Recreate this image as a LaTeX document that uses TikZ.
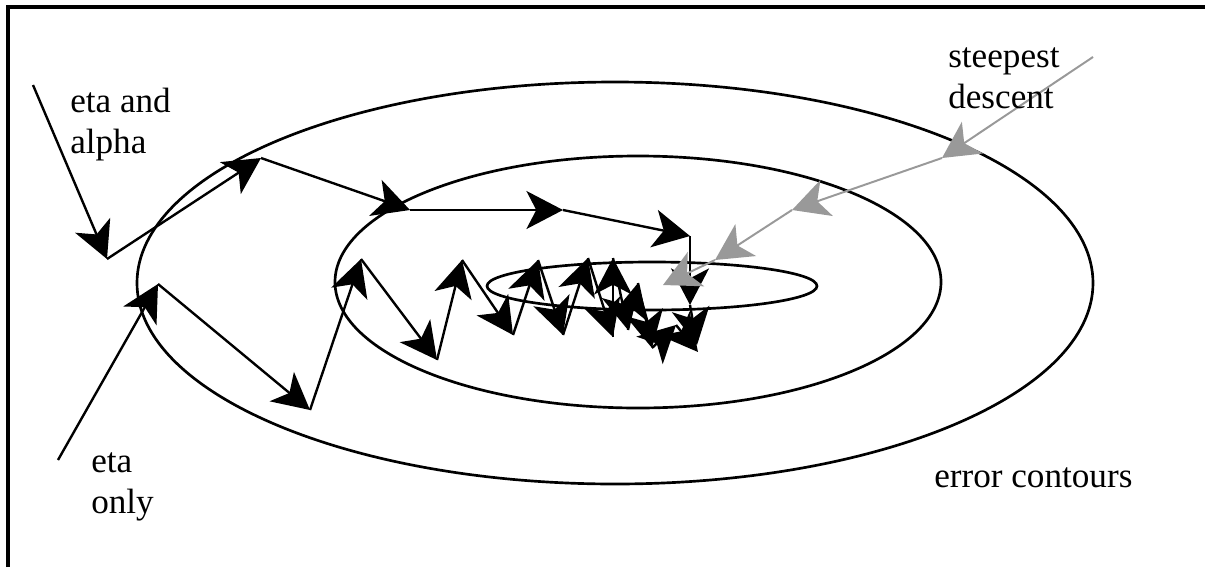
\documentclass[tikz,border=0pt]{standalone}
\usepackage{fontspec}
\setmainfont{Liberation Serif}
\usepackage{xcolor}
\usepackage{tikz}
\usetikzlibrary{arrows.meta}
\definecolor{fgsteep}{HTML}{999999}

\begin{document}
\begin{tikzpicture}[
        x=0.025cm, y=0.025cm, yscale=-1,
        contour/.style={
            draw=black,
            line width=1.9pt
        },
        jump/.style={
            draw=black,
            line width=1.7pt,
            -{Stealth[length=26pt, width=27pt, inset=7pt]}
        },
        steep/.style={
            draw=fgsteep,
            line width=1.4pt,
            -{Stealth[length=26pt, width=27pt, inset=7pt]}
        },
        label/.style={
            draw=none,
            fill=none,
            text=black,
            font=\fontsize{25}{28.5}\selectfont,
            align=left,
            anchor=base west,
            inner sep=0pt
        }
    ]
        \useasboundingbox (0,0) rectangle (1205,567);
        \draw[line width=2.4pt] (8,567) -- (8,7) -- (1205,7);

        % error contours
        \draw[contour] (615,283) ellipse [x radius=478, y radius=201];
        \draw[contour] (638,282) ellipse [x radius=303, y radius=126];
        \draw[contour] (652,286) ellipse [x radius=165, y radius=24];

        % eta and alpha
        \coordinate (a0) at (33,85);
        \coordinate (a1) at (107,259);
        \coordinate (a2) at (261,158);
        \coordinate (a3) at (410,210);
        \coordinate (a4) at (563,210);
        \coordinate (a5) at (690,236);
        \coordinate (a6) at (690,305);
        \coordinate (a7) at (697,345);
        \foreach \p/\q in {a0/a1, a1/a2, a2/a3, a3/a4, a4/a5, a5/a6, a6/a7}
            \draw[jump] (\p) -- (\q);

        % eta only
        \coordinate (b0) at (58,460);
        \coordinate (b1) at (158,284);
        \coordinate (b2) at (310,410);
        \coordinate (b3) at (361,259);
        \coordinate (b4) at (437,360);
        \coordinate (b5) at (462,260);
        \coordinate (b6) at (513,335);
        \coordinate (b7) at (538,260);
        \coordinate (b8) at (563,335);
        \coordinate (b9) at (588,258);
        \coordinate (b10) at (613,337);
        \coordinate (b11) at (613,258);
        \coordinate (b12) at (628,330);
        \coordinate (b13) at (638,283);
        \coordinate (b14) at (652,348);
        \coordinate (b15) at (676,325);
        \coordinate (b16) at (698,352);
        \foreach \p/\q in {b0/b1, b1/b2, b2/b3, b3/b4, b4/b5, b5/b6, b6/b7, b7/b8,
                b8/b9, b9/b10, b10/b11, b11/b12, b12/b13, b13/b14, b14/b15, b15/b16}
            \draw[jump] (\p) -- (\q);

        % steepest descent
        \coordinate (g0) at (1093,57);
        \coordinate (g1) at (942,158);
        \coordinate (g2) at (792,210);
        \coordinate (g3) at (715,260);
        \coordinate (g4) at (663,285);
        \foreach \p/\q in {g0/g1, g1/g2, g2/g3, g3/g4}
            \draw[steep] (\p) -- (\q);

        % labels
        \node[label] (etaalpha) at (70,153) {eta and\\alpha};
        \node[label] (steepest) at (948,108) {steepest\\descent};
        \node[label] (etaonly) at (91,513) {eta\\only};
        \node[label] (contours) at (934,487) {error contours};
    \end{tikzpicture}
\end{document}
